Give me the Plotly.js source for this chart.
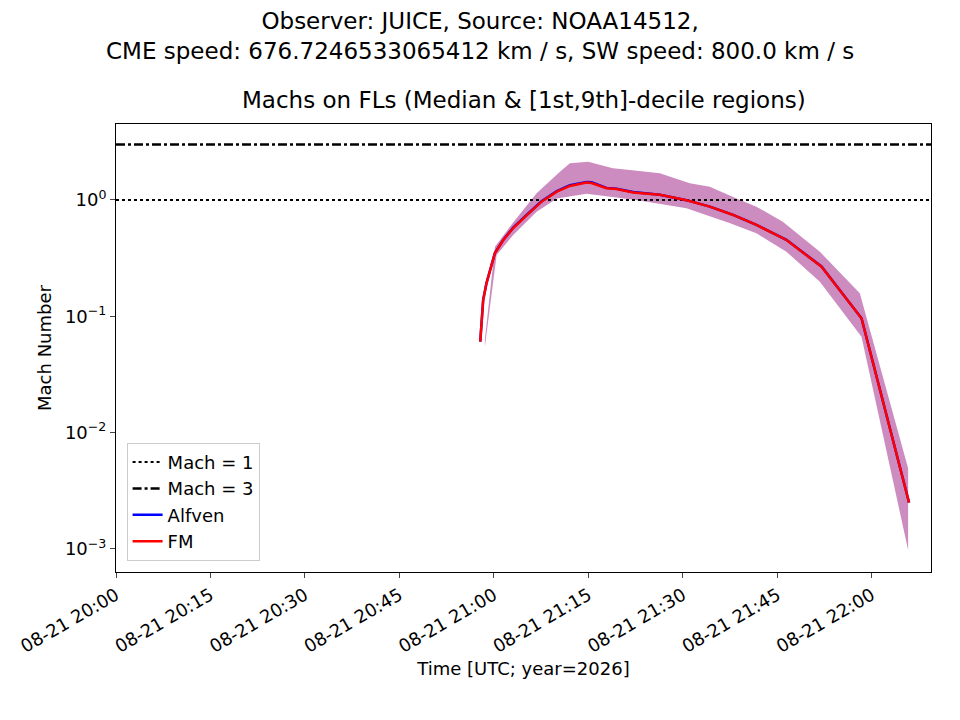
<!DOCTYPE html>
<html>
<head>
<meta charset="utf-8">
<script src="https://cdn.plot.ly/plotly-3.0.1.min.js"></script>
</head>
<body style="margin:0">
<div id="myDiv" style="width:960px;height:720px"></div>
<script>
var day = "2026-08-21 ";
var medTimes = ["20:57:50","20:58:18","20:58:50","21:00:10","21:01:30","21:03:04","21:05:27","21:07:34","21:10:00","21:12:04","21:14:43","21:15:30","21:17:53","21:19:29","21:22:06","21:26:20","21:30:35","21:34:17","21:37:59","21:41:41","21:46:27","21:52:01","21:58:22","22:05:55"];
var medFM = [0.0605,0.138,0.193,0.350,0.453,0.574,0.758,0.967,1.179,1.32,1.41,1.40,1.26,1.24,1.16,1.11,0.994,0.876,0.743,0.610,0.453,0.267,0.0961,0.00250];
var medAlfven = [0.0605,0.139,0.194,0.352,0.455,0.578,0.765,0.975,1.19,1.34,1.43,1.42,1.27,1.25,1.17,1.11,0.996,0.877,0.744,0.611,0.454,0.268,0.0962,0.00251];

var upTimes = ["20:58:34","21:00:10","21:03:00","21:06:47","21:10:29","21:12:04","21:14:58","21:18:53","21:21:35","21:26:20","21:31:06","21:34:17","21:38:31","21:41:41","21:45:52","21:51:45","21:58:06","22:05:46"];
var upVals = [0.0626,0.397,0.634,1.14,1.75,2.07,2.13,1.87,1.81,1.70,1.39,1.30,1.03,0.876,0.651,0.359,0.158,0.00493];
var loTimes = ["20:58:34","21:00:26","21:03:04","21:06:47","21:10:00","21:14:43","21:22:36","21:30:35","21:37:30","21:41:41","21:46:27","21:51:45","21:58:22","22:05:46"];
var loVals = [0.0548,0.337,0.500,0.793,1.03,1.13,1.0,0.848,0.630,0.517,0.359,0.198,0.0668,0.00098];

var xRange = [day + "20:00:00", day + "22:09:24"];
var xTicks = ["20:00","20:15","20:30","20:45","21:00","21:15","21:30","21:45","22:00"];
var yTicks = [1e-3, 1e-2, 1e-1, 1];
var yTickText = ["10<sup>\u22123</sup>","10<sup>\u22122</sup>","10<sup>\u22121</sup>","10<sup>0</sup>"];

function full(arr) { return arr.map(function (t) { return day + t; }); }

var bandX = full(upTimes).concat(full(loTimes).reverse());
var bandY = upVals.concat(loVals.slice().reverse());

var data = [
  { x: bandX, y: bandY, fill: "toself", fillcolor: "rgba(204,140,192,1)", line: { width: 0 }, mode: "lines", showlegend: false, hoverinfo: "skip" },
  { x: xRange, y: [1, 1], mode: "lines", name: "Mach = 1", line: { color: "black", dash: "dot", width: 2 } },
  { x: xRange, y: [3, 3], mode: "lines", name: "Mach = 3", line: { color: "black", dash: "dashdot", width: 2.5 } },
  { x: full(medTimes), y: medAlfven, mode: "lines", name: "Alfven", line: { color: "blue", width: 2.5 } },
  { x: full(medTimes), y: medFM, mode: "lines", name: "FM", line: { color: "red", width: 2.5 } }
];

var font = { family: "DejaVu Sans", size: 18, color: "black" };
var tickFont = { family: "DejaVu Sans", size: 18, color: "black" };

var layout = {
  width: 960, height: 720,
  margin: { l: 116, r: 29, t: 124, b: 148 },
  font: font,
  plot_bgcolor: "white", paper_bgcolor: "white",
  showlegend: true,
  legend: { x: 0.013, y: 0.025, xanchor: "left", yanchor: "bottom", bordercolor: "#cccccc", borderwidth: 1, bgcolor: "rgba(255,255,255,0.8)", font: { family: "DejaVu Sans", size: 18 }, tracegroupgap: 0 },
  xaxis: {
    type: "date", range: xRange,
    tickvals: xTicks.map(function (t) { return day + t; }),
    ticktext: xTicks.map(function (t) { return "08-21 " + t; }),
    tickfont: tickFont,
    tickangle: -30, ticks: "outside", ticklen: 5, showgrid: false, zeroline: false,
    showline: true, mirror: true, linecolor: "black", linewidth: 1,
    title: { text: "Time [UTC; year=2026]", font: font, standoff: 6 }
  },
  yaxis: {
    type: "log", range: [-3.198, 0.653],
    tickvals: yTicks, ticktext: yTickText, tickfont: tickFont,
    ticks: "outside", ticklen: 5, showgrid: false, zeroline: false,
    showline: true, mirror: true, linecolor: "black", linewidth: 1,
    title: { text: "Mach Number", font: font, standoff: 8 }
  },
  annotations: [
    { text: "Observer: JUICE, Source: NOAA14512,<br>CME speed: 676.7246533065412 km / s, SW speed: 800.0 km / s", xref: "paper", yref: "paper", x: 0.5, y: 1, xanchor: "center", yanchor: "top", showarrow: false, font: { family: "DejaVu Sans", size: 23 } },
    { text: "Machs on FLs (Median & [1st,9th]-decile regions)", xref: "paper", yref: "paper", x: 0.5, y: 1.02, xanchor: "center", yanchor: "bottom", showarrow: false, font: { family: "DejaVu Sans", size: 23 } }
  ]
};
// suptitle centred on the figure, near its top edge
layout.annotations[0].x = (480 - 116) / (960 - 116 - 29);
layout.annotations[0].y = 1 + (124 - 6) / (720 - 124 - 148);

Plotly.newPlot("myDiv", data, layout, { displayModeBar: false, staticPlot: true });
</script>
</body>
</html>
